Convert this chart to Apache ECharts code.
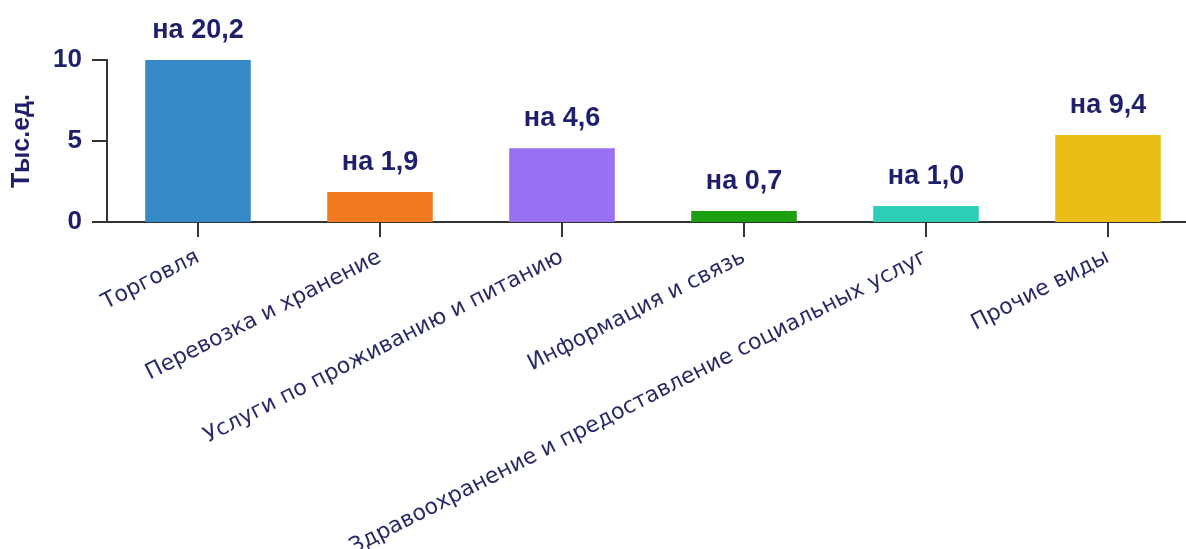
<!DOCTYPE html>
<html>
<head>
<meta charset="utf-8">
<script src="https://cdn.jsdelivr.net/npm/echarts@6/dist/echarts.min.js"></script>
<style>
html,body{margin:0;padding:0;background:#fff;}
#chart{width:1186px;height:549px;}
</style>
</head>
<body>
<div id="chart"></div>
<script>
const categories = ['Торговля', 'Перевозка и хранение', 'Услуги по проживанию и питанию', 'Информация и связь', 'Здравоохранение и предоставление социальных услуг', 'Прочие виды'];
const barValues = [10, 1.85, 4.55, 0.68, 0.98, 5.37];
const barLabels = ['на 20,2', 'на 1,9', 'на 4,6', 'на 0,7', 'на 1,0', 'на 9,4'];
const barColors = ['#3589c6', '#f47a20', '#9a70f2', '#1d9f12', '#2ecdb8', '#e8be17'];
const yTicks = [0, 5, 10];
const yName = 'Тыс.ед.';

const navy = '#1f1f6b';
const chart = echarts.init(document.getElementById('chart'));
chart.setOption({
  animation: false,
  backgroundColor: '#fff',
  grid: { left: 107, top: 60, height: 162, width: 1092, containLabel: false, outerBoundsMode: 'none' },
  xAxis: {
    type: 'category',
    data: categories,
    axisLine: { show: true, lineStyle: { color: '#333', width: 2 } },
    axisTick: { show: true, alignWithLabel: true, length: 15, lineStyle: { color: '#333', width: 2 } },
    axisLabel: {
      rotate: 27, margin: 34, interval: 0,
      fontFamily: 'DejaVu Sans, sans-serif', fontSize: 22, color: '#2a2a66'
    }
  },
  yAxis: {
    type: 'value', min: yTicks[0], max: yTicks[yTicks.length - 1], interval: 5,
    name: yName, nameLocation: 'middle', nameGap: 72, nameRotate: 90,
    nameTextStyle: { fontFamily: 'Liberation Sans, Arial, sans-serif', fontSize: 25, fontWeight: 'bold', color: navy },
    axisLine: { show: true, lineStyle: { color: '#333', width: 2 } },
    axisTick: { show: true, length: 15, lineStyle: { color: '#333', width: 2 } },
    splitLine: { show: false },
    axisLabel: { margin: 25, fontFamily: 'Liberation Sans, Arial, sans-serif', fontSize: 26, fontWeight: 'bold', color: navy }
  },
  series: [{
    type: 'bar',
    barWidth: '58%',
    data: barValues.map((v, i) => ({ value: v, itemStyle: { color: barColors[i] } })),
    label: {
      show: true, position: 'top', distance: 16,
      formatter: p => barLabels[p.dataIndex],
      fontFamily: 'Liberation Sans, Arial, sans-serif', fontSize: 27, fontWeight: 'bold', color: navy
    }
  }]
});
</script>
</body>
</html>
